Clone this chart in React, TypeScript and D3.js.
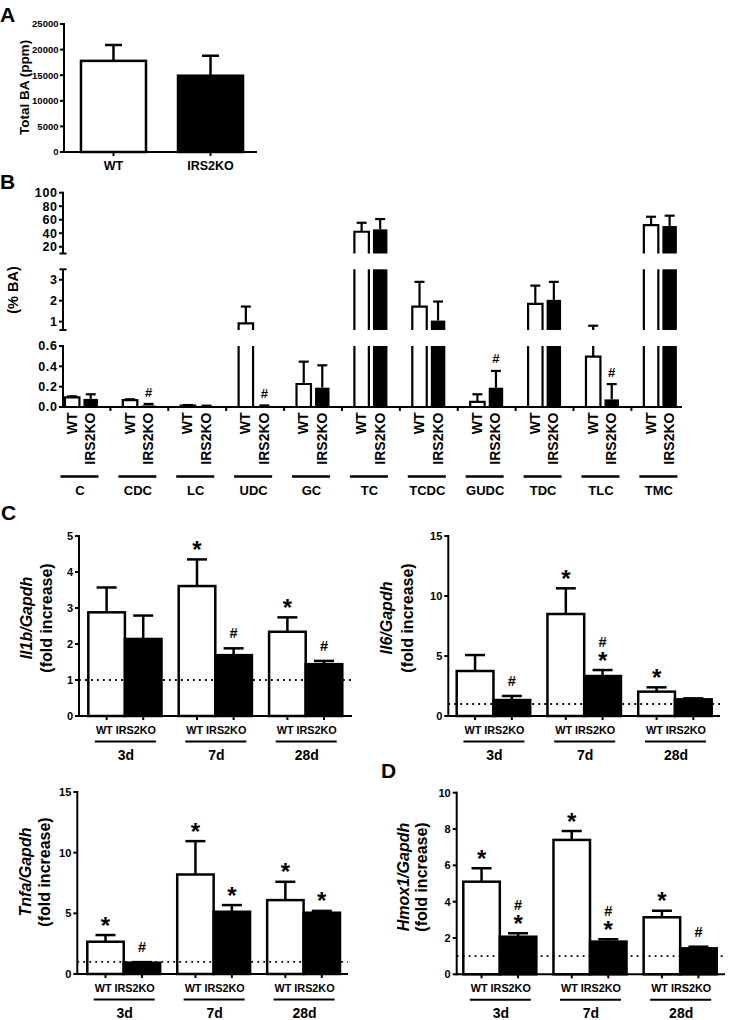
import React from "react";
import * as d3 from "d3";

const FONT = "'Liberation Sans', Arial, Helvetica, sans-serif";

// ---------- Panel A : total bile acids ----------
const genotypes = ["WT", "IRS2KO"];
const totalBAMean = [17800, 14900];
const totalBASem = [3100, 3900];
const totalBATicks = [0, 5000, 10000, 15000, 20000, 25000];

// ---------- Panel B : bile acid species (% BA) ----------
const bileAcids = ["C", "CDC", "LC", "UDC", "GC", "TC", "TCDC", "GUDC", "TDC", "TLC", "TMC"];
const baWTMean = [0.095, 0.068, 0.015, 0.92, 0.226, 42.2, 1.72, 0.05, 1.85, 0.495, 52];
const baWTSem = [0.01, 0.008, 0.004, 0.8, 0.22, 13.3, 1.18, 0.075, 0.87, 0.31, 12.4];
const baKOMean = [0.08, 0.015, 0.01, 0.01, 0.19, 45.8, 1.05, 0.19, 2.04, 0.075, 50.7];
const baKOSem = [0.045, 0.015, 0.003, 0.005, 0.22, 15.2, 0.91, 0.165, 0.86, 0.15, 15.3];
const baKOMarks = ["", "#", "", "#", "", "", "", "#", "", "#", ""];
const baSegDomains = [[0, 0.6], [0.6, 3.5], [10, 100]];
const baSegTicks = [[0, 0.2, 0.4, 0.6], [1, 2, 3], [20, 40, 60, 80, 100]];

// ---------- Panels C / D : fold increase ----------
const days = ["3d", "7d", "28d"];

const il1bWT = [2.88, 3.61, 2.34];
const il1bWTSem = [0.69, 0.74, 0.4];
const il1bKO = [2.14, 1.69, 1.44];
const il1bKOSem = [0.65, 0.19, 0.09];
const il1bWTMarks = ["", "*", "*"];
const il1bKOMarks = ["", "#", "#"];
const il1bTicks = [0, 1, 2, 3, 4, 5];

const il6WT = [3.75, 8.5, 2.03];
const il6WTSem = [1.33, 2.14, 0.36];
const il6KO = [1.33, 3.33, 1.39];
const il6KOSem = [0.34, 0.5, 0.08];
const il6WTMarks = ["", "*", "*"];
const il6KOMarks = ["#", "*#", ""];
const il6Ticks = [0, 5, 10, 15];

const tnfaWT = [2.66, 8.2, 6.09];
const tnfaWTSem = [0.55, 2.75, 1.51];
const tnfaKO = [0.93, 5.13, 5.05];
const tnfaKOSem = [0.05, 0.55, 0.15];
const tnfaWTMarks = ["*", "*", "*"];
const tnfaKOMarks = ["#", "*", "*"];
const tnfaTicks = [0, 5, 10, 15];

const hmox1WT = [5.1, 7.4, 3.14];
const hmox1WTSem = [0.74, 0.49, 0.36];
const hmox1KO = [2.07, 1.8, 1.43];
const hmox1KOSem = [0.19, 0.13, 0.09];
const hmox1WTMarks = ["*", "*", "*"];
const hmox1KOMarks = ["*#", "*#", "#"];
const hmox1Ticks = [0, 2, 4, 6, 8, 10];

const foldCharts = [
  { id: "il1b", gene: "Il1b/Gapdh", wt: il1bWT, wtSem: il1bWTSem, ko: il1bKO, koSem: il1bKOSem,
    wtMarks: il1bWTMarks, koMarks: il1bKOMarks, max: 5, ticks: il1bTicks,
    axX: 79, xEnd: 352, y0: 716, yT: 536, gL: 88.3, gR: 342.3, lab1: 32, lab2: 52, labY: 618 },
  { id: "il6", gene: "Il6/Gapdh", wt: il6WT, wtSem: il6WTSem, ko: il6KO, koSem: il6KOSem,
    wtMarks: il6WTMarks, koMarks: il6KOMarks, max: 15, ticks: il6Ticks,
    axX: 448.3, xEnd: 720, y0: 716, yT: 536, gL: 456.7, gR: 711.7, lab1: 392, lab2: 413, labY: 618 },
  { id: "tnfa", gene: "Tnfa/Gapdh", wt: tnfaWT, wtSem: tnfaWTSem, ko: tnfaKO, koSem: tnfaKOSem,
    wtMarks: tnfaWTMarks, koMarks: tnfaKOMarks, max: 15, ticks: tnfaTicks,
    axX: 77.3, xEnd: 348, y0: 974, yT: 792, gL: 87.3, gR: 340, lab1: 31, lab2: 50, labY: 872 },
  { id: "hmox1", gene: "Hmox1/Gapdh", wt: hmox1WT, wtSem: hmox1WTSem, ko: hmox1KO, koSem: hmox1KOSem,
    wtMarks: hmox1WTMarks, koMarks: hmox1KOMarks, max: 10, ticks: hmox1Ticks,
    axX: 456.7, xEnd: 725, y0: 974.3, yT: 792.7, gL: 463.3, gR: 716.7, lab1: 409, lab2: 427, labY: 877 },
];

const K = "#000";
const STAR = 24;
const HASH = 14.5;

// Significance marks stacked bottom-up, drawn as one text element.
function Marks({ chars, cx, errTop, gap = 15, step = 13.5 }) {
  if (!chars) return null;
  return (
    <text x={cx} textAnchor="middle">
      {chars.split("").map((ch, j) => {
        const cy = errTop - gap - step * j;
        const isStar = ch === "*";
        return (
          <tspan key={j} x={cx} y={isStar ? cy + 0.565 * STAR : cy + 0.35 * HASH} fontSize={isStar ? STAR : HASH}>
            {ch}
          </tspan>
        );
      })}
    </text>
  );
}

function PanelA() {
  const axX = 64, y0 = 152, yT = 24, xEnd = 257;
  const y = d3.scaleLinear().domain([0, 25000]).range([y0, yT]);
  const x = d3.scaleBand().domain(genotypes).range([axX, 260]).paddingInner(0.33).paddingOuter(0.175);
  return (
    <g>
      {genotypes.map((g, i) => {
        const bx = x(g)!;
        const bw = x.bandwidth();
        const cx = bx + bw / 2;
        const top = y(totalBAMean[i]);
        const et = y(totalBAMean[i] + totalBASem[i]);
        return (
          <g key={g}>
            <rect x={bx} y={top} width={bw} height={y0 - top} fill={i === 0 ? "#fff" : K} stroke={K} strokeWidth={2.5} />
            <line x1={cx} x2={cx} y1={top} y2={et} stroke={K} strokeWidth={2.5} />
            <line x1={cx - 8.5} x2={cx + 8.5} y1={et} y2={et} stroke={K} strokeWidth={2.5} />
            <line x1={cx} x2={cx} y1={y0} y2={y0 + 4} stroke={K} strokeWidth={2} />
            <text x={cx} y={170} fontSize={12.5} textAnchor="middle">{g}</text>
          </g>
        );
      })}
      <line x1={axX} x2={axX} y1={yT - 1} y2={y0 + 1} stroke={K} strokeWidth={2} />
      <line x1={axX} x2={xEnd} y1={y0} y2={y0} stroke={K} strokeWidth={2} />
      {totalBATicks.map((t) => (
        <g key={t}>
          <line x1={axX - 4} x2={axX} y1={y(t)} y2={y(t)} stroke={K} strokeWidth={2} />
          <text x={axX - 5.5} y={y(t) + 3.4} fontSize={9.5} textAnchor="end">{t}</text>
        </g>
      ))}
      <text transform={`translate(28.5,87.5) rotate(-90)`} fontSize={13.5} textAnchor="middle">Total BA (ppm)</text>
    </g>
  );
}

function PanelB() {
  const axX = 63;
  const xAxisEnd = 682;
  const segRanges = [[407, 346], [330, 269.3], [253.5, 192.7]];
  const x = d3.scaleBand().domain(bileAcids).range([52.5, 689.3]);
  const inner = d3.scaleBand().domain(genotypes).range([-16.5, 16.5]).paddingInner(0.22);
  const segs = baSegDomains.map((d, i) => d3.scaleLinear().domain(d).range(segRanges[i]));
  const series = [
    { g: "WT", m: baWTMean, s: baWTSem, fill: "#fff" },
    { g: "IRS2KO", m: baKOMean, s: baKOSem, fill: K },
  ];
  const fmt = [d3.format(".1f"), d3.format("d"), d3.format("d")];
  const sw = 2.2;
  const els = [];
  segs.forEach((ys, si) => {
    const [lo, hi] = ys.domain();
    const yLo = ys(lo);
    bileAcids.forEach((a, ai) => {
      series.forEach((s) => {
        const v = s.m[ai];
        const t = v + s.s[ai];
        const bx = x(a)! + x.bandwidth() / 2 + inner(s.g)!;
        const bw = inner.bandwidth();
        const cx = bx + bw / 2;
        const key = `${si}-${a}-${s.g}`;
        if (v > lo) {
          const yt = ys(Math.min(v, hi));
          if (s.fill === K) {
            els.push(<rect key={key + "r"} x={bx} y={yt} width={bw} height={yLo - yt} fill={K} />);
          } else {
            const d = v <= hi
              ? `M${bx},${yLo}V${yt}H${bx + bw}V${yLo}`
              : `M${bx},${yLo}V${yt}M${bx + bw},${yt}V${yLo}`;
            els.push(<rect key={key + "r"} x={bx} y={yt} width={bw} height={yLo - yt} fill="#fff" />);
            els.push(<path key={key + "p"} d={d} fill="none" stroke={K} strokeWidth={sw} />);
          }
        }
        const e0 = Math.max(v, lo);
        const e1 = Math.min(t, hi);
        if (e1 > e0) {
          els.push(<line key={key + "e"} x1={cx} x2={cx} y1={ys(e0)} y2={ys(e1)} stroke={K} strokeWidth={sw} />);
        }
        if (t >= lo && t <= hi) {
          els.push(<line key={key + "c"} x1={cx - 5} x2={cx + 5} y1={ys(t)} y2={ys(t)} stroke={K} strokeWidth={sw} />);
          if (s.g === "IRS2KO" && baKOMarks[ai]) {
            els.push(
              <text key={key + "m"} x={cx} y={ys(t) - 12 + 0.35 * 13} fontSize={13} textAnchor="middle">
                {baKOMarks[ai]}
              </text>
            );
          }
        }
      });
    });
  });
  return (
    <g>
      {els}
      {segs.map((ys, si) => {
        const [yLo, yHi] = ys.range();
        return (
          <g key={"ax" + si}>
            <line x1={axX} x2={axX} y1={yHi - (si === 1 ? 0 : 1)} y2={yLo + (si === 0 ? 1 : 0)} stroke={K} strokeWidth={2} />
            {baSegTicks[si].map((t) => (
              <g key={t}>
                <line x1={axX - 4} x2={axX} y1={ys(t)} y2={ys(t)} stroke={K} strokeWidth={2} />
                <text x={axX - 5.5} y={ys(t) + 4.3} fontSize={12.5} letterSpacing={0.6} textAnchor="end">{fmt[si](t)}</text>
              </g>
            ))}
            {si > 0 && <line x1={axX - 3.5} x2={axX + 3.5} y1={yLo} y2={yLo} stroke={K} strokeWidth={2} />}
            {si === 1 && <line x1={axX - 3.5} x2={axX + 3.5} y1={yHi} y2={yHi} stroke={K} strokeWidth={2} />}
          </g>
        );
      })}
      <line x1={axX} x2={xAxisEnd} y1={407} y2={407} stroke={K} strokeWidth={2} />
      {bileAcids.slice(1).map((a) => (
        <line key={"t" + a} x1={x(a)!} x2={x(a)!} y1={407} y2={411} stroke={K} strokeWidth={2} />
      ))}
      {bileAcids.map((a) => {
        const c = x(a)! + x.bandwidth() / 2;
        return (
          <g key={"lab" + a}>
            {genotypes.map((g) => {
              const cx = c + inner(g)! + inner.bandwidth() / 2;
              return (
                <text key={g} transform={`translate(${cx + 4.5},412.5) rotate(-90)`} fontSize={14} textAnchor="end">{g}</text>
              );
            })}
            <line x1={c - 21} x2={c + 17} y1={476.5} y2={476.5} stroke={K} strokeWidth={2.5} />
            <text x={c - 1.5} y={494.5} fontSize={13} textAnchor="middle">{a}</text>
          </g>
        );
      })}
      <text transform={`translate(17.5,290) rotate(-90)`} fontSize={14.5} textAnchor="middle">(% BA)</text>
    </g>
  );
}

function FoldChart({ c }) {
  const y = d3.scaleLinear().domain([0, c.max]).range([c.y0, c.yT]);
  const gx = d3.scaleBand().domain(days).range([c.gL, c.gR]).paddingInner(0.19);
  const bx = d3.scaleBand().domain(genotypes).range([0, gx.bandwidth()]);
  const series = [
    { g: "WT", m: c.wt, s: c.wtSem, marks: c.wtMarks, fill: "#fff" },
    { g: "IRS2KO", m: c.ko, s: c.koSem, marks: c.koMarks, fill: K },
  ];
  return (
    <g>
      {days.map((d, di) =>
        series.map((s) => {
          const x0 = gx(d)! + bx(s.g)!;
          const w = bx.bandwidth();
          const cx = x0 + w / 2;
          const top = y(s.m[di]);
          const et = y(s.m[di] + s.s[di]);
          return (
            <g key={d + s.g}>
              <rect x={x0} y={top} width={w} height={c.y0 - top} fill={s.fill} stroke={K} strokeWidth={2.5} />
              <line x1={cx} x2={cx} y1={top} y2={et} stroke={K} strokeWidth={2.5} />
              <line x1={cx - 10} x2={cx + 10} y1={et} y2={et} stroke={K} strokeWidth={2.5} />
              <line x1={cx} x2={cx} y1={c.y0} y2={c.y0 + 4} stroke={K} strokeWidth={2} />
              <Marks chars={s.marks[di]} cx={cx} errTop={et} />
            </g>
          );
        })
      )}
      <line x1={c.axX} x2={c.xEnd} y1={y(1)} y2={y(1)} stroke={K} strokeWidth={1.8} strokeDasharray="1.8,4.2" />
      <line x1={c.axX} x2={c.axX} y1={c.yT - 1} y2={c.y0 + 1} stroke={K} strokeWidth={2} />
      <line x1={c.axX} x2={c.xEnd} y1={c.y0} y2={c.y0} stroke={K} strokeWidth={2} />
      {c.ticks.map((t) => (
        <g key={t}>
          <line x1={c.axX - 4} x2={c.axX} y1={y(t)} y2={y(t)} stroke={K} strokeWidth={2} />
          <text x={c.axX - 6} y={y(t) + 3.9} fontSize={11} textAnchor="end">{t}</text>
        </g>
      ))}
      {days.map((d) => {
        const gc = gx(d)! + gx.bandwidth() / 2;
        return (
          <g key={"g" + d}>
            <text x={gc + 1} y={c.y0 + 18} fontSize={10.8} textAnchor="middle">WT IRS2KO</text>
            <line x1={gc - 30} x2={gc + 31} y1={c.y0 + 25.5} y2={c.y0 + 25.5} stroke={K} strokeWidth={2} />
            <text x={gc + 1} y={c.y0 + 44} fontSize={14} textAnchor="middle">{d}</text>
          </g>
        );
      })}
      <text transform={`translate(${c.lab1},${c.labY}) rotate(-90)`} fontSize={16} fontStyle="italic" textAnchor="middle">{c.gene}</text>
      <text transform={`translate(${c.lab2},${c.labY}) rotate(-90)`} fontSize={16} textAnchor="middle">(fold increase)</text>
    </g>
  );
}

export default function App() {
  return (
    <svg
      width={729}
      height={1020}
      style={{ position: "absolute", left: 0, top: 0, background: "#fff" }}
      fontFamily={FONT}
      fontWeight="bold"
    >
      <rect x={0} y={0} width={729} height={1020} fill="#fff" />
      <PanelA />
      <PanelB />
      {foldCharts.map((c) => (
        <FoldChart key={c.id} c={c} />
      ))}
      <text x={0} y={21.7} fontSize={21}>A</text>
      <text x={0} y={188.5} fontSize={21}>B</text>
      <text x={1} y={520} fontSize={21}>C</text>
      <text x={381} y={777.5} fontSize={21}>D</text>
    </svg>
  );
}
